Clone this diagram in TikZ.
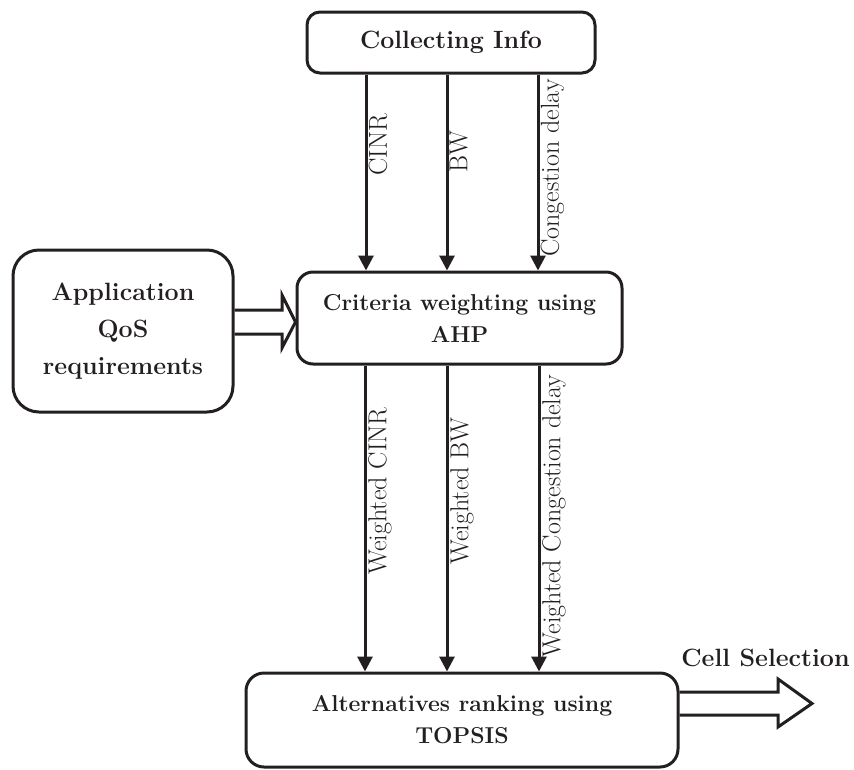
\documentclass[tikz,border=0pt]{standalone}
\usetikzlibrary{arrows.meta,calc}
\definecolor{ink}{RGB}{35,31,32}
\begin{document}
\begin{tikzpicture}[x=1pt,y=-1pt,
  box/.style={draw=ink, line width=3pt, align=center, text=ink, inner sep=0pt,
    font=\bfseries\fontsize{23}{32}\selectfont},
  arr/.style={draw=ink, line width=3pt, -{Triangle[width=15pt,length=15pt]}},
  lbl/.style={rotate=90, anchor=north, inner sep=0pt, text=ink,
    font=\fontsize{26}{30}\selectfont},
  blk/.style={draw=ink, line width=3pt, line join=miter}]
\useasboundingbox (0,0) rectangle (854,769);

% boxes
\node[box, rounded corners=13pt, minimum width=288pt, minimum height=61pt,
  font=\bfseries\fontsize{25}{30}\selectfont] (info) at (451,42.5) {Collecting Info};
\node[box, rounded corners=26pt, minimum width=220pt, minimum height=162pt,
  font=\bfseries\fontsize{25}{37}\selectfont] (app) at (123,331) {Application\\QoS\\requirements};
\node[box, rounded corners=16pt, minimum width=325pt, minimum height=92pt] (crit) at (459.5,318) {Criteria weighting using\\AHP};
\node[box, rounded corners=18pt, minimum width=432pt, minimum height=94pt] (alt) at (462,720) {Alternatives ranking using\\TOPSIS};
\node[inner sep=0pt, text=ink, font=\bfseries\fontsize{25}{30}\selectfont] (cellsel) at (765.5,658) {Cell Selection};

% column coordinates
\coordinate (u1) at (366,0);
\coordinate (u2) at (447,0);
\coordinate (u3) at (538,0);
\coordinate (d1) at (365,0);
\coordinate (d2) at (447,0);
\coordinate (d3) at (539,0);

% upper connectors
\draw[arr] (info.south -| u1) -- (crit.north -| u1);
\draw[arr] (info.south -| u2) -- (crit.north -| u2);
\draw[arr] (info.south -| u3) -- (crit.north -| u3);
% lower connectors
\draw[arr] (crit.south -| d1) -- (alt.north -| d1);
\draw[arr] (crit.south -| d2) -- (alt.north -| d2);
\draw[arr] (crit.south -| d3) -- (alt.north -| d3);

% labels
\node[lbl] (lcinr) at (368.5,145) {CINR};
\node[lbl] (lbw) at (449.5,152) {BW};
\node[lbl] (lcong) at (540.5,168) {Congestion delay};
\node[lbl] (lwcinr) at (368,491) {Weighted CINR};
\node[lbl] (lwbw) at (450,491) {Weighted BW};
\node[lbl] (lwcong) at (542,516) {Weighted Congestion delay};

% block arrow: application -> criteria
\draw[blk] (app.east |- 0,310) -- (282,310) -- (282,295) -- (crit.west |- 0,322)
  -- (282,348) -- (282,334) -- (app.east |- 0,334);

% block arrow: alternatives -> cell selection
\coordinate (seltip) at (812,703.5);
\draw[blk] (alt.east |- 0,692) -- (778,692) -- (778,679) -- (seltip)
  -- (778,727) -- (778,715) -- (alt.east |- 0,715);
\end{tikzpicture}
\end{document}
